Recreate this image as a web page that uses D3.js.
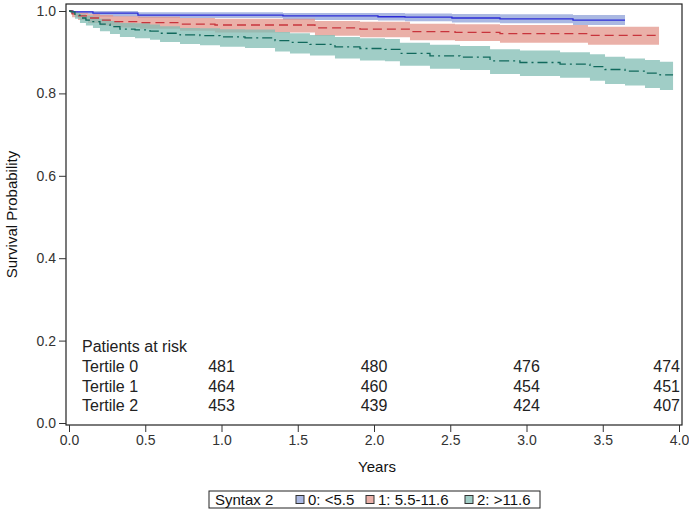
<!DOCTYPE html>
<html>
<head>
<meta charset="utf-8">
<script src="https://cdn.jsdelivr.net/npm/d3@7"></script>
<style>
  body { margin: 0; background: #fff; }
  text { font-family: "Liberation Sans", Arial, sans-serif; }
</style>
</head>
<body>
<div id="chart"></div>
<script>
// group 0: <5.5
var time0 = [0, 0.026, 0.157, 0.452, 1.403, 2.026, 2.203, 2.511, 2.826, 3.305, 3.646];
var surv0 = [1.000, 0.998, 0.995, 0.990, 0.988, 0.986, 0.985, 0.983, 0.981, 0.978, 0.978];
var lcl0  = [1.000, 0.993, 0.986, 0.983, 0.978, 0.977, 0.975, 0.972, 0.970, 0.966, 0.966];
var ucl0  = [1.000, 1.000, 1.000, 0.997, 0.995, 0.995, 0.994, 0.993, 0.992, 0.990, 0.990];

// group 1: 5.5-11.6
var time1 = [0, 0.02, 0.059, 0.125, 0.203, 0.289, 0.466, 0.728, 0.957, 1.613, 1.908, 2.236, 2.531, 2.826, 3.403, 3.869];
var surv1 = [1.000, 0.993, 0.988, 0.983, 0.978, 0.974, 0.972, 0.968, 0.966, 0.959, 0.956, 0.950, 0.948, 0.945, 0.941, 0.941];
var lcl1  = [1.000, 0.985, 0.978, 0.971, 0.965, 0.960, 0.957, 0.952, 0.948, 0.940, 0.936, 0.929, 0.927, 0.923, 0.918, 0.918];
var ucl1  = [1.000, 1.000, 0.996, 0.993, 0.990, 0.987, 0.986, 0.983, 0.981, 0.976, 0.974, 0.969, 0.968, 0.966, 0.962, 0.962];

// group 2: >11.6
var time2 = [0, 0.013, 0.039, 0.072, 0.111, 0.157, 0.203, 0.269, 0.334, 0.433, 0.531, 0.597, 0.728, 0.859, 0.990,
             1.154, 1.351, 1.449, 1.580, 1.744, 1.908, 2.072, 2.170, 2.367, 2.564, 2.761, 2.957, 3.220, 3.416,
             3.515, 3.646, 3.777, 3.875, 3.961];
var surv2 = [1.000, 0.998, 0.990, 0.983, 0.978, 0.974, 0.968, 0.962, 0.956, 0.954, 0.951, 0.946, 0.942, 0.940, 0.937,
             0.935, 0.928, 0.924, 0.919, 0.913, 0.909, 0.907, 0.897, 0.891, 0.888, 0.879, 0.875, 0.871, 0.865,
             0.858, 0.854, 0.849, 0.845, 0.845];
var lcl2  = [1.000, 0.993, 0.981, 0.971, 0.965, 0.959, 0.951, 0.944, 0.937, 0.934, 0.930, 0.925, 0.920, 0.917, 0.913,
             0.910, 0.902, 0.897, 0.892, 0.885, 0.880, 0.878, 0.867, 0.860, 0.857, 0.847, 0.842, 0.838, 0.831,
             0.823, 0.819, 0.813, 0.808, 0.808];
var ucl2  = [1.000, 1.000, 0.997, 0.992, 0.989, 0.986, 0.981, 0.976, 0.971, 0.970, 0.967, 0.963, 0.959, 0.958, 0.956,
             0.955, 0.949, 0.946, 0.942, 0.937, 0.934, 0.932, 0.923, 0.918, 0.915, 0.907, 0.904, 0.900, 0.895,
             0.889, 0.885, 0.881, 0.877, 0.877];

var groupLabels = ["0: <5.5", "1: 5.5-11.6", "2: >11.6"];
var rowLabels = ["Tertile 0", "Tertile 1", "Tertile 2"];
var riskTimes = [1, 2, 3, 4];
var atRisk0 = [481, 480, 476, 474];
var atRisk1 = [464, 460, 454, 451];
var atRisk2 = [453, 439, 424, 407];
var xTicks = [0, 0.5, 1, 1.5, 2, 2.5, 3, 3.5, 4];
var yTicks = [0, 0.2, 0.4, 0.6, 0.8, 1.0];

var lineColors = ["#2b2bd6", "#c8343c", "#10695c"];
var bandColors = ["#8ea0d8", "#e3968b", "#80bcb3"];
var dashes = [null, "9,5", "10,4,2,4"];

var width = 689, height = 512;
var frame = { left: 66, right: 682, top: 4, bottom: 425 };

var svg = d3.select("#chart").append("svg")
    .attr("width", width)
    .attr("height", height);

var x = d3.scaleLinear().domain([0, 4]).range([69, 679]);
var y = d3.scaleLinear().domain([0, 1]).range([423, 11]);

var groups = [
    { t: time0, s: surv0, lo: lcl0, hi: ucl0 },
    { t: time1, s: surv1, lo: lcl1, hi: ucl1 },
    { t: time2, s: surv2, lo: lcl2, hi: ucl2 }
].map(function (g) {
    return g.t.map(function (t, i) {
        return { t: t, s: g.s[i], lo: g.lo[i], hi: g.hi[i] };
    });
});

// confidence bands
groups.forEach(function (g, i) {
    svg.append("path")
        .datum(g)
        .attr("fill", bandColors[i])
        .attr("fill-opacity", 0.75)
        .attr("d", d3.area()
            .curve(d3.curveStepAfter)
            .x(d => x(d.t))
            .y0(d => y(d.lo))
            .y1(d => y(d.hi)));
});

// survival curves
groups.forEach(function (g, i) {
    svg.append("path")
        .datum(g)
        .attr("fill", "none")
        .attr("stroke", lineColors[i])
        .attr("stroke-width", 1.3)
        .attr("stroke-dasharray", dashes[i])
        .attr("d", d3.line()
            .curve(d3.curveStepAfter)
            .x(d => x(d.t))
            .y(d => y(d.s)));
});

// frame
svg.append("rect")
    .attr("x", frame.left)
    .attr("y", frame.top)
    .attr("width", frame.right - frame.left)
    .attr("height", frame.bottom - frame.top)
    .attr("fill", "none")
    .attr("stroke", "#222")
    .attr("stroke-width", 1.2);

// axes
var xAxis = d3.axisBottom(x).tickValues(xTicks).tickFormat(d3.format(".1f")).tickSizeOuter(0).tickSize(7).tickPadding(3);
var xg = svg.append("g")
    .attr("transform", "translate(0," + frame.bottom + ")")
    .call(xAxis);
xg.select(".domain").remove();

var yAxis = d3.axisLeft(y).tickValues(yTicks).tickFormat(d3.format(".1f")).tickSizeOuter(0).tickSize(7).tickPadding(3);
var yg = svg.append("g")
    .attr("transform", "translate(" + frame.left + ",0)")
    .call(yAxis);
yg.select(".domain").remove();

svg.selectAll(".tick text")
    .attr("font-family", "'Liberation Sans', Arial, sans-serif")
    .attr("font-size", 14)
    .attr("fill", "#333");
svg.selectAll(".tick line").attr("stroke", "#333");

svg.append("text")
    .attr("x", (frame.left + frame.right) / 2 + 3)
    .attr("y", 472)
    .attr("text-anchor", "middle")
    .attr("font-size", 15)
    .attr("fill", "#111")
    .text("Years");

svg.append("text")
    .attr("transform", "translate(17," + ((frame.top + frame.bottom) / 2) + ") rotate(-90)")
    .attr("text-anchor", "middle")
    .attr("font-size", 15)
    .attr("fill", "#111")
    .text("Survival Probability");

// patients at risk table
var riskRows = [atRisk0, atRisk1, atRisk2];
var rowY = [372, 391.5, 411];
svg.append("text")
    .attr("x", 82).attr("y", 352)
    .attr("font-size", 16).attr("fill", "#222")
    .text("Patients at risk");
riskRows.forEach(function (row, r) {
    svg.append("text")
        .attr("x", 82).attr("y", rowY[r])
        .attr("font-size", 16).attr("fill", "#222")
        .text(rowLabels[r]);
    row.forEach(function (n, k) {
        var last = k === riskTimes.length - 1;
        svg.append("text")
            .attr("x", last ? x(riskTimes[k]) + 1 : x(riskTimes[k]))
            .attr("y", rowY[r])
            .attr("text-anchor", last ? "end" : "middle")
            .attr("font-size", 16).attr("fill", "#222")
            .text(n);
    });
});

// legend
var lg = svg.append("g").attr("transform", "translate(209,491)");
lg.append("rect")
    .attr("width", 331).attr("height", 17)
    .attr("fill", "#fff").attr("stroke", "#222");
lg.append("text").attr("x", 6).attr("y", 13.5).attr("font-size", 15).attr("fill", "#111").text("Syntax 2");
var legX = [87, 157, 256];
groupLabels.forEach(function (lab, i) {
    lg.append("rect")
        .attr("x", legX[i]).attr("y", 4.5)
        .attr("width", 8).attr("height", 8)
        .attr("fill", bandColors[i]).attr("fill-opacity", 0.75)
        .attr("stroke", "#333");
    lg.append("text")
        .attr("x", legX[i] + 12).attr("y", 13.5)
        .attr("font-size", 15).attr("fill", "#111")
        .text(lab);
});
</script>
</body>
</html>
